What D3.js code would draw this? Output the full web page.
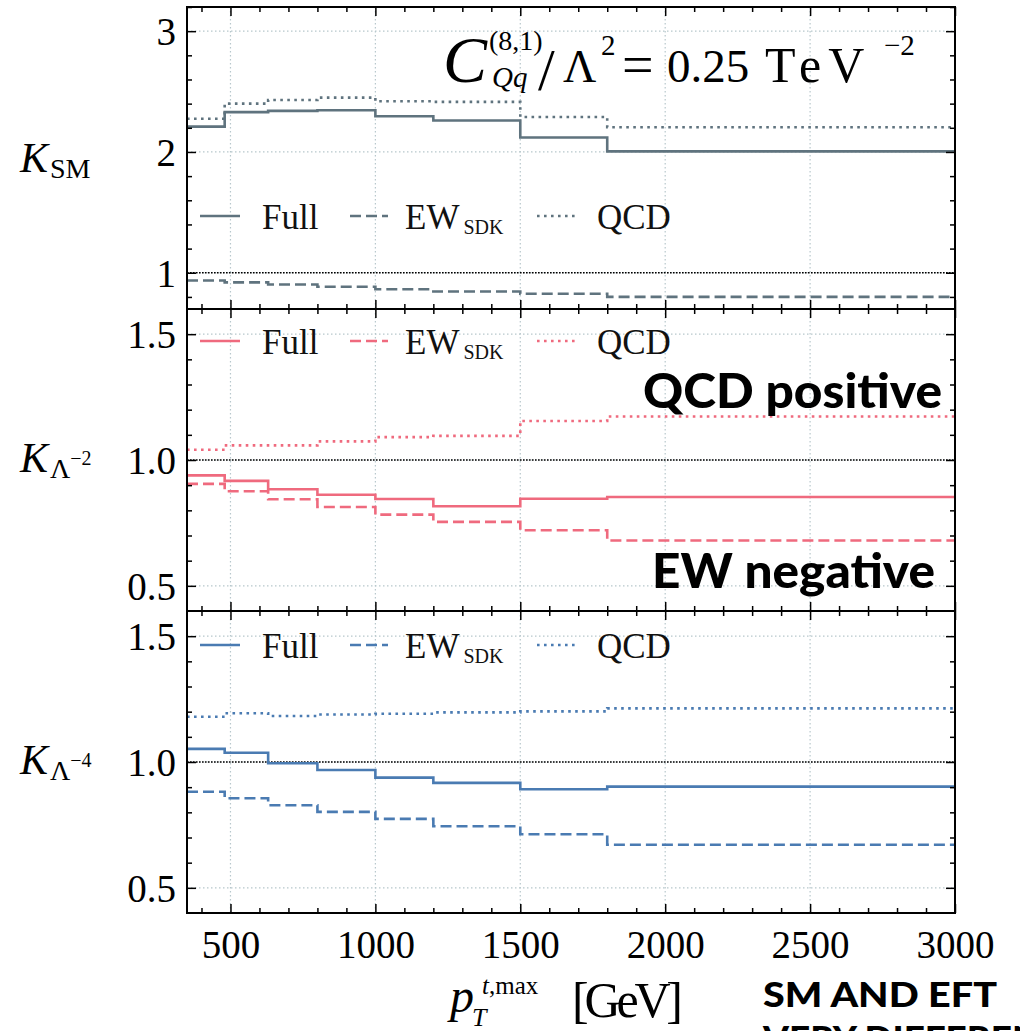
<!DOCTYPE html>
<html>
<head>
<meta charset="utf-8">
<script src="https://cdn.jsdelivr.net/npm/d3@7"></script>
<style>
  html, body { margin: 0; padding: 0; background: #fff; }
  svg { display: block; }
</style>
</head>
<body>
<svg id="chart" width="1020" height="1031"></svg>
<script>
// Bin edges in p_T^{t,max} [GeV]
const binEdges = [350, 480, 630, 800, 1000, 1200, 1500, 1800, 3000];

// K-factors per bin, one array per curve
const smFull = [2.21, 2.33, 2.34, 2.345, 2.295, 2.26, 2.12, 2.005];
const smEW   = [0.936, 0.92, 0.903, 0.884, 0.864, 0.845, 0.826, 0.80];
const smQCD  = [2.275, 2.40, 2.43, 2.45, 2.42, 2.415, 2.29, 2.205];

const l2Full = [0.939, 0.917, 0.884, 0.862, 0.845, 0.816, 0.846, 0.853];
const l2EW   = [0.905, 0.876, 0.844, 0.813, 0.783, 0.754, 0.721, 0.680];
const l2QCD  = [1.041, 1.058, 1.058, 1.074, 1.091, 1.096, 1.155, 1.173];

const l4Full = [1.052, 1.037, 0.995, 0.968, 0.938, 0.917, 0.892, 0.902];
const l4EW   = [0.882, 0.856, 0.828, 0.802, 0.774, 0.745, 0.713, 0.671];
const l4QCD  = [1.180, 1.194, 1.183, 1.189, 1.192, 1.197, 1.201, 1.213];

const xMajorTicks = [500, 1000, 1500, 2000, 2500, 3000];
const xMinorTicks = d3.range(400, 3000, 100).filter(v => v % 500 !== 0);

const smYTicks = [1, 2, 3];
const smYTickLabels = ["1", "2", "3"];
const smYMinor = [0.8, 1.2, 1.4, 1.6, 1.8, 2.2, 2.4, 2.6, 2.8, 3.2];
const eftYTicks = [0.5, 1.0, 1.5];
const eftYTickLabels = ["0.5", "1.0", "1.5"];
const eftYMinor = [0.6, 0.7, 0.8, 0.9, 1.1, 1.2, 1.3, 1.4];

const legendNames = ["Full", "EW", "QCD"];

const serif = "'Liberation Serif', 'DejaVu Serif', serif";
const boldSans = "Lato, 'Open Sans', sans-serif";

const svg = d3.select("#chart");
const left = 187, right = 955;
const x = d3.scaleLinear().domain([350, 3000]).range([left, right]);

const panels = [
  { top: 7,   bottom: 309, domain: [0.7, 3.2], color: "#5f737e",
    full: smFull, ew: smEW, qcd: smQCD,
    ticks: smYTicks, tickLabels: smYTickLabels, minor: smYMinor,
    legendY: 216 },
  { top: 309, bottom: 611, domain: [0.4, 1.6], color: "#ef6a7e",
    full: l2Full, ew: l2EW, qcd: l2QCD,
    ticks: eftYTicks, tickLabels: eftYTickLabels, minor: eftYMinor,
    legendY: 341 },
  { top: 611, bottom: 913, domain: [0.4, 1.6], color: "#4a7bb2",
    full: l4Full, ew: l4EW, qcd: l4QCD,
    ticks: eftYTicks, tickLabels: eftYTickLabels, minor: eftYMinor,
    legendY: 645 }
];

const styles = {
  full: null,
  ew: "11,5",
  qcd: "2.6,4.4"
};

panels.forEach((p, i) => {
  const y = d3.scaleLinear().domain(p.domain).range([p.bottom, p.top]);
  const g = svg.append("g");
  const clipId = "clip" + i;
  svg.append("clipPath").attr("id", clipId)
    .append("rect").attr("x", left).attr("y", p.top)
    .attr("width", right - left).attr("height", p.bottom - p.top);

  // grid
  const grid = g.append("g").attr("stroke", "#b7c7cc").attr("stroke-width", 1.2)
    .attr("stroke-dasharray", "1.5,2.5");
  xMajorTicks.forEach(v => grid.append("line")
    .attr("x1", x(v)).attr("x2", x(v)).attr("y1", p.top).attr("y2", p.bottom));
  p.ticks.forEach(v => grid.append("line")
    .attr("x1", left).attr("x2", right).attr("y1", y(v)).attr("y2", y(v)));

  // reference line at K = 1
  g.append("line").attr("x1", left).attr("x2", right)
    .attr("y1", y(1)).attr("y2", y(1))
    .attr("stroke", "#000").attr("stroke-width", 1.5)
    .attr("stroke-dasharray", "1.6,1.4");

  // step curves
  const line = d3.line().x(d => x(d[0])).y(d => y(d[1])).curve(d3.curveStepAfter);
  const toPts = vals => {
    const pts = vals.map((v, k) => [binEdges[k], v]);
    pts.push([binEdges[binEdges.length - 1], vals[vals.length - 1]]);
    return pts;
  };
  const curves = g.append("g").attr("clip-path", `url(#${clipId})`);
  [["qcd", p.qcd], ["ew", p.ew], ["full", p.full]].forEach(([key, vals]) => {
    curves.append("path").attr("d", line(toPts(vals)))
      .attr("fill", "none").attr("stroke", p.color).attr("stroke-width", 2.6)
      .attr("stroke-dasharray", styles[key]);
  });

  // axes with inward ticks on all four sides
  const axG = g.append("g");
  const bottomAx = d3.axisBottom(x).tickValues(xMajorTicks).tickSizeInner(-9).tickSizeOuter(0)
    .tickFormat(i === 2 ? d3.format("d") : () => "");
  const topAx = d3.axisTop(x).tickValues(xMajorTicks).tickSizeInner(-9).tickSizeOuter(0).tickFormat(() => "");
  const bottomMinor = d3.axisBottom(x).tickValues(xMinorTicks).tickSizeInner(-5).tickSizeOuter(0).tickFormat(() => "");
  const topMinor = d3.axisTop(x).tickValues(xMinorTicks).tickSizeInner(-5).tickSizeOuter(0).tickFormat(() => "");
  const leftAx = d3.axisLeft(y).tickValues(p.ticks).tickSizeInner(-9).tickSizeOuter(0)
    .tickFormat((d, k) => p.tickLabels[k]);
  const rightAx = d3.axisRight(y).tickValues(p.ticks).tickSizeInner(-9).tickSizeOuter(0).tickFormat(() => "");
  const leftMinor = d3.axisLeft(y).tickValues(p.minor).tickSizeInner(-5).tickSizeOuter(0).tickFormat(() => "");
  const rightMinor = d3.axisRight(y).tickValues(p.minor).tickSizeInner(-5).tickSizeOuter(0).tickFormat(() => "");

  const add = (ax, tx, ty) => {
    const a = axG.append("g").attr("transform", `translate(${tx},${ty})`).call(ax);
    a.select(".domain").remove();
    a.selectAll(".tick line").attr("stroke", "#000").attr("stroke-width", 1.5);
    a.selectAll(".tick text").attr("font-family", serif).attr("fill", "#000");
    return a;
  };
  const b = add(bottomAx, 0, p.bottom);
  b.selectAll(".tick text").attr("font-size", 39).attr("dy", "0.71em").attr("y", 17);
  add(topAx, 0, p.top);
  add(bottomMinor, 0, p.bottom);
  add(topMinor, 0, p.top);
  const l = add(leftAx, left, 0);
  l.selectAll(".tick text").attr("font-size", 39).attr("x", -11).attr("dy", "0.34em");
  add(rightAx, right, 0);
  add(leftMinor, left, 0);
  add(rightMinor, right, 0);

  // frame
  g.append("rect").attr("x", left).attr("y", p.top)
    .attr("width", right - left).attr("height", p.bottom - p.top)
    .attr("fill", "none").attr("stroke", "#000").attr("stroke-width", 2);

  // legend
  const ly = p.legendY;
  const leg = g.append("g");
  const samples = [[200, 240, "full"], [350, 388, "ew"], [537, 577, "qcd"]];
  samples.forEach(([x1, x2, key]) => {
    leg.append("line").attr("x1", x1).attr("x2", x2).attr("y1", ly).attr("y2", ly)
      .attr("stroke", p.color).attr("stroke-width", 2.6)
      .attr("stroke-dasharray", styles[key]);
  });
  const txt = (xx, s) => leg.append("text").attr("x", xx).attr("y", ly + 13)
    .attr("font-family", serif).attr("font-size", 35).attr("fill", "#111").text(s);
  txt(262, legendNames[0]);
  const ew = txt(405, legendNames[1]);
  ew.append("tspan").attr("font-size", 20).attr("dx", 4).attr("dy", 5).text("SDK");
  txt(597, legendNames[2]);
});

// y-axis titles
function kLabel(yBase, sub, sup) {
  const t = svg.append("text").attr("x", 20).attr("y", yBase)
    .attr("font-family", serif).attr("font-size", 42).attr("fill", "#000");
  t.append("tspan").attr("font-style", "italic").text("K");
  t.append("tspan").attr("font-size", 28).attr("dy", 6).attr("dx", 2).text(sub);
  if (sup) t.append("tspan").attr("font-size", 20).attr("dy", -13).text(sup);
}
kLabel(172, "SM");
kLabel(472, "Λ", "−2");
kLabel(774, "Λ", "−4");

// Wilson coefficient annotation in top panel
const title = svg.append("g").attr("font-family", serif).attr("fill", "#000");
title.append("text").attr("x", 443).attr("y", 82).attr("font-size", 66)
  .attr("font-style", "italic").text("C");
title.append("text").attr("x", 489).attr("y", 50).attr("font-size", 28).text("(8,1)");
title.append("text").attr("x", 492).attr("y", 87).attr("font-size", 29)
  .attr("font-style", "italic").text("Qq");
title.append("text").attr("x", 538).attr("y", 90).attr("font-size", 60).text("/");
title.append("text").attr("x", 563).attr("y", 82).attr("font-size", 46).text("Λ");
title.append("text").attr("x", 601).attr("y", 55).attr("font-size", 29).text("2");
title.append("text").attr("x", 622).attr("y", 84).attr("font-size", 56).text("=");
title.append("text").attr("x", 667).attr("y", 82).attr("font-size", 47).text("0.25");
title.append("text").attr("x", 765).attr("y", 82).attr("font-size", 50)
  .attr("letter-spacing", 7).text("TeV");
title.append("text").attr("x", 884).attr("y", 55).attr("font-size", 29).text("−2");

// x-axis title
const xt = svg.append("g").attr("font-family", serif).attr("fill", "#000");
xt.append("text").attr("x", 450).attr("y", 1012).attr("font-size", 48)
  .attr("font-style", "italic").text("p");
const sup = xt.append("text").attr("x", 482).attr("y", 994).attr("font-size", 25);
sup.append("tspan").attr("font-style", "italic").text("t");
sup.append("tspan").text(",max");
xt.append("text").attr("x", 472).attr("y", 1026).attr("font-size", 26)
  .attr("font-style", "italic").text("T");
xt.append("text").attr("x", 572).attr("y", 1017).attr("font-size", 50)
  .attr("textLength", 111).text("[GeV]");

// annotations
const ann = svg.append("g").attr("font-family", boldSans).attr("font-weight", 900).attr("fill", "#000");
ann.append("text").attr("x", 643).attr("y", 408)
  .attr("font-size", 47).attr("textLength", 299).attr("lengthAdjust", "spacingAndGlyphs")
  .text("QCD positive");
ann.append("text").attr("x", 652).attr("y", 588)
  .attr("font-size", 47).attr("textLength", 283).attr("lengthAdjust", "spacingAndGlyphs")
  .text("EW negative");
ann.append("text").attr("x", 763).attr("y", 1007).attr("font-size", 35)
  .attr("textLength", 234).attr("lengthAdjust", "spacingAndGlyphs").text("SM AND EFT");
ann.append("text").attr("x", 763).attr("y", 1051).attr("font-size", 35)
  .attr("textLength", 300).attr("lengthAdjust", "spacingAndGlyphs").text("VERY DIFFERENT");
</script>
</body>
</html>
